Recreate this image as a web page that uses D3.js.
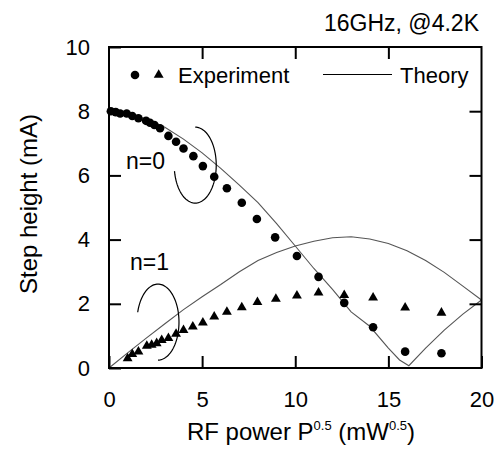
<!DOCTYPE html>
<html>
    <head>
        <meta charset="UTF-8"/>
        <style>
            body { margin: 0; background: #fff; }
            text { font-family: Arial, "Liberation Sans", sans-serif; fill: #000; }
        </style>
    </head>
    <body>
        <script src="https://d3js.org/d3.v7.min.js" type="text/javascript"></script>
        <script>
            // experiment, n=0 (circles)
            let expN0X = [0.1, 0.36, 0.6, 0.95, 1.25, 1.58, 1.99, 2.2, 2.44, 2.74, 3.19, 3.6, 4.0, 4.53, 5.04, 5.65, 6.33, 7.13, 7.94, 8.92, 10.09, 11.25, 12.63, 14.18, 15.9, 17.85];
            let expN0Y = [8.0, 7.97, 7.93, 7.93, 7.85, 7.78, 7.7, 7.64, 7.57, 7.47, 7.23, 7.05, 6.84, 6.6, 6.29, 5.96, 5.6, 5.15, 4.64, 4.07, 3.49, 2.84, 2.03, 1.27, 0.51, 0.46];
            // experiment, n=1 (triangles)
            let expN1X = [1.0, 1.25, 1.58, 2.03, 2.29, 2.56, 2.83, 3.19, 3.6, 4.0, 4.5, 5.04, 5.65, 6.33, 7.13, 7.97, 8.96, 10.09, 11.25, 12.63, 14.18, 15.9, 17.85];
            let expN1Y = [0.3, 0.43, 0.51, 0.69, 0.72, 0.77, 0.87, 0.93, 1.06, 1.18, 1.29, 1.41, 1.6, 1.75, 1.89, 2.05, 2.15, 2.25, 2.35, 2.27, 2.19, 1.88, 1.72];
            // theory curves
            let theoryN0X = [0, 1, 2, 3, 4, 5, 6, 7, 8, 9, 10, 11, 12, 13, 14, 15, 15.6, 16.1, 17, 18, 19, 20];
            let theoryN0Y = [8.0, 7.93, 7.76, 7.5, 7.13, 6.7, 6.22, 5.7, 5.15, 4.5, 3.8, 3.1, 2.45, 1.75, 1.3, 0.62, 0.25, 0.07, 0.62, 1.18, 1.68, 2.12];
            let theoryN1X = [0, 1, 2, 3, 4, 5, 6, 7, 8, 9, 10, 11, 12, 13, 14, 15, 16, 17, 18, 19, 20];
            let theoryN1Y = [0, 0.47, 0.93, 1.38, 1.82, 2.22, 2.6, 3.0, 3.35, 3.6, 3.8, 3.95, 4.06, 4.09, 4.02, 3.88, 3.65, 3.35, 2.98, 2.55, 2.12];
            let xTicks = [0, 5, 10, 15, 20];
            let yTicks = [0, 2, 4, 6, 8, 10];

            let width = 504;
            let height = 450;
            let svg = d3.select("body")
                .append("svg")
                .attr("width", width)
                .attr("height", height);

            let xScale = d3.scaleLinear().domain([0, 20]).range([109, 481.5]);
            let yScale = d3.scaleLinear().domain([0, 10]).range([368, 47]);

            // theory lines
            let line = d3.line()
                .x(function(d) { return xScale(d[0]); })
                .y(function(d) { return yScale(d[1]); });
            [[theoryN0X, theoryN0Y], [theoryN1X, theoryN1Y]].forEach(function(t) {
                svg.append("path")
                    .datum(d3.zip(t[0], t[1]))
                    .attr("d", line)
                    .attr("fill", "none")
                    .attr("stroke", "#555")
                    .attr("stroke-width", 1.1);
            });

            // experiment marks
            svg.selectAll("circle.n0")
                .data(d3.zip(expN0X, expN0Y))
                .enter()
                .append("circle")
                .attr("cx", function(d) { return xScale(d[0]); })
                .attr("cy", function(d) { return yScale(d[1]); })
                .attr("r", 4.3)
                .attr("fill", "black");
            let tri = d3.symbol().type(d3.symbolTriangle).size(42);
            svg.selectAll("path.n1")
                .data(d3.zip(expN1X, expN1Y))
                .enter()
                .append("path")
                .attr("d", tri)
                .attr("transform", function(d) {
                    return "translate(" + xScale(d[0]) + "," + yScale(d[1]) + ")";
                })
                .attr("fill", "black");

            // axes: labels bottom/left, inward ticks on all four sides
            let gx = svg.append("g")
                .attr("transform", "translate(0,368)")
                .call(d3.axisBottom(xScale).tickValues(xTicks).tickSize(-12).tickPadding(23).tickFormat(d3.format("d")));
            let gy = svg.append("g")
                .attr("transform", "translate(109,0)")
                .call(d3.axisLeft(yScale).tickValues(yTicks).tickSize(-12).tickPadding(19).tickFormat(d3.format("d")));
            let gt = svg.append("g")
                .attr("transform", "translate(0,47)")
                .call(d3.axisTop(xScale).tickValues([5, 10, 15]).tickSize(-12).tickFormat(""));
            let gr = svg.append("g")
                .attr("transform", "translate(481.5,0)")
                .call(d3.axisRight(yScale).tickValues([2, 4, 6, 8]).tickSize(-12).tickFormat(""));
            [gx, gy, gt, gr].forEach(function(g) {
                g.select(".domain").remove();
                g.selectAll(".tick line").attr("stroke", "black").attr("stroke-width", 2);
                g.selectAll(".tick text").attr("font-size", 22).attr("font-family", "Arial, 'Liberation Sans', sans-serif").attr("fill", "black");
            });
            svg.append("rect")
                .attr("x", 109).attr("y", 47)
                .attr("width", 481.5 - 109).attr("height", 368 - 47)
                .attr("fill", "none")
                .attr("stroke", "black")
                .attr("stroke-width", 2);

            // axis titles
            let xt = svg.append("text")
                .attr("x", 301).attr("y", 440)
                .attr("text-anchor", "middle")
                .attr("font-size", 24);
            xt.append("tspan").text("RF power P");
            xt.append("tspan").attr("font-size", 13).attr("dy", -10).text("0.5");
            xt.append("tspan").attr("dy", 10).text(" (mW");
            xt.append("tspan").attr("font-size", 13).attr("dy", -10).text("0.5");
            xt.append("tspan").attr("dy", 10).text(")");
            svg.append("text")
                .attr("transform", "translate(37,204) rotate(-90)")
                .attr("text-anchor", "middle")
                .attr("font-size", 24)
                .text("Step height (mA)");
            svg.append("text")
                .attr("x", 479).attr("y", 31)
                .attr("text-anchor", "end")
                .attr("font-size", 23)
                .text("16GHz, @4.2K");

            // legend
            svg.append("circle").attr("cx", 135).attr("cy", 75).attr("r", 4.3).attr("fill", "black");
            svg.append("path").attr("d", tri).attr("transform", "translate(158.7,75)").attr("fill", "black");
            svg.append("text").attr("x", 178).attr("y", 83).attr("font-size", 22).text("Experiment");
            svg.append("line").attr("x1", 323).attr("x2", 392).attr("y1", 74.5).attr("y2", 74.5)
                .attr("stroke", "black").attr("stroke-width", 1);
            svg.append("text").attr("x", 400).attr("y", 83).attr("font-size", 22).text("Theory");

            // annotations: open ellipses with labels
            function ellipseArc(cx, cy, rx, ry, a0, a1) {
                let pts = d3.range(a0, a1 + 0.01, 3).map(function(a) {
                    let r = a * Math.PI / 180;
                    return [cx + rx * Math.cos(r), cy + ry * Math.sin(r)];
                });
                return d3.line()(pts);
            }
            svg.append("path")
                .attr("d", ellipseArc(xScale(4.63), yScale(6.32), 21, 38, -90, 172))
                .attr("fill", "none").attr("stroke", "black").attr("stroke-width", 1.2);
            svg.append("path")
                .attr("d", ellipseArc(xScale(2.63), yScale(1.43), 21, 38, 195, 450))
                .attr("fill", "none").attr("stroke", "black").attr("stroke-width", 1.2);
            svg.append("text").attr("x", 126).attr("y", 169).attr("font-size", 23).text("n=0");
            svg.append("text").attr("x", 130).attr("y", 270).attr("font-size", 23).text("n=1");
        </script>
    </body>
</html>
